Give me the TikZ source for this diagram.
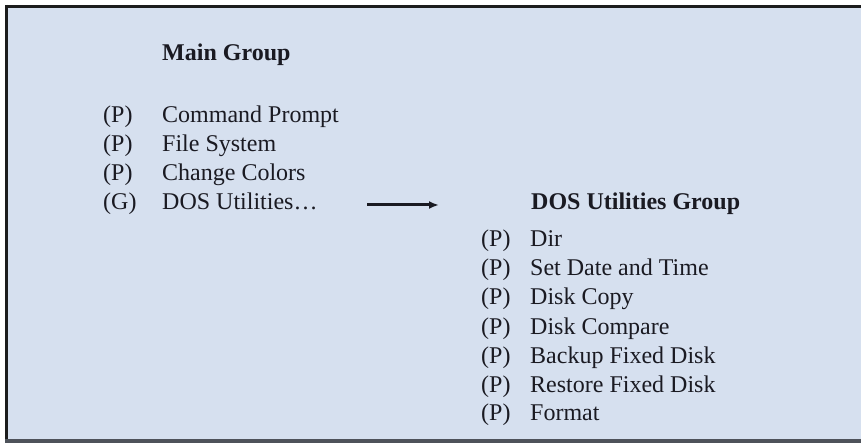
\documentclass[tikz,border=0pt]{standalone}
\usepackage{fontspec}
\setmainfont{Liberation Serif}
\usetikzlibrary{arrows.meta}
\definecolor{panel}{HTML}{D6E0EF}
\definecolor{ink}{HTML}{1A1A22}
\definecolor{edge}{HTML}{1C1C1C}
\definecolor{lowedge}{HTML}{4E525A}
\tikzset{
  txt/.style={anchor=base west, inner sep=0pt, text=ink, font=\fontsize{24}{29}\selectfont},
  head/.style={txt, font=\fontsize{24}{29}\selectfont\bfseries},
  conn/.style={draw=ink, line width=3pt, -{Latex[length=10pt,width=8pt]}}
}
\begin{document}
\begin{tikzpicture}[x=1pt,y=-1pt]
\useasboundingbox (0,0) rectangle (861,443);
\fill[white] (0,0) rectangle (861,443);
\fill[panel] (6,6) rectangle (861,441);
\draw[edge, line width=3pt] (5,6.5) -- (861,6.5);
\draw[edge, line width=3pt] (6.5,5) -- (6.5,441);
\fill[lowedge] (5,438.5) rectangle (861,443);

% Main group
\node[head] (mg) at (162,61) {Main Group};
\node[txt] (l1p) at (103,123) {(P)};
\node[txt] (l1) at (162,123) {Command Prompt};
\node[txt] (l2p) at (103,152) {(P)};
\node[txt] (l2) at (162,152) {File System};
\node[txt] (l3p) at (103,181) {(P)};
\node[txt] (l3) at (162,181) {Change Colors};
\node[txt] (l4p) at (103,210) {(G)};
\node[txt] (l4) at (162,210) {DOS Utilities\ldots};

% arrow
\coordinate (as) at (367,205);
\coordinate (ae) at (439,205);
\draw[conn] (as) -- (ae);

% DOS utilities group
\node[head] (dg) at (531,210) {DOS Utilities Group};
\node[txt] (r1p) at (481,247) {(P)};
\node[txt] (r1) at (530,247) {Dir};
\node[txt] (r2p) at (481,276) {(P)};
\node[txt] (r2) at (530,276) {Set Date and Time};
\node[txt] (r3p) at (481,305) {(P)};
\node[txt] (r3) at (530,305) {Disk Copy};
\node[txt] (r4p) at (481,334) {(P)};
\node[txt] (r4) at (530,334) {Disk Compare};
\node[txt] (r5p) at (481,363) {(P)};
\node[txt] (r5) at (530,363) {Backup Fixed Disk};
\node[txt] (r6p) at (481,392) {(P)};
\node[txt] (r6) at (530,392) {Restore Fixed Disk};
\node[txt] (r7p) at (481,420) {(P)};
\node[txt] (r7) at (530,420) {Format};
\end{tikzpicture}
\end{document}
